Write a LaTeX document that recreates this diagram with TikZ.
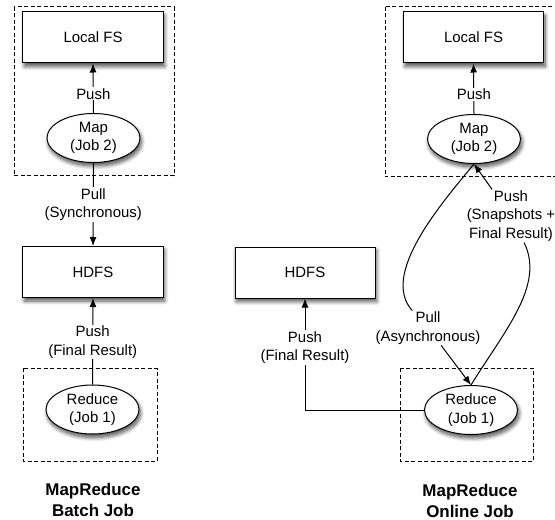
\documentclass[tikz,border=0pt]{standalone}
\usepackage{fontspec}
\setmainfont{Liberation Sans}
\usetikzlibrary{arrows.meta,shapes.geometric,shadows.blur}
\begin{document}
\begin{tikzpicture}[x=1bp,y=-1bp,
  every node/.style={font=\fontsize{15}{18.5}\selectfont, align=center},
  softshadow/.style={blur shadow={shadow xshift=1.5bp, shadow yshift=-3.5bp, shadow blur radius=4bp, shadow blur steps=8, shadow opacity=70}},
  store/.style={draw, line width=1bp, fill=white, minimum width=140bp, minimum height=51bp, inner sep=0pt, softshadow},
  job/.style={ellipse, draw, line width=1bp, fill=white, minimum width=93bp, minimum height=49bp, inner sep=0pt, softshadow},
  group/.style={draw, line width=1bp, dash pattern=on 4bp off 2.5bp},
  arr/.style={line width=1bp, -{Latex[length=9bp,width=7bp]}},
  conn/.style={line width=1bp},
  lbl/.style={fill=white, inner sep=1bp},
  title/.style={font=\fontsize{17}{21}\selectfont\bfseries}]
\useasboundingbox (0,0) rectangle (555,520);

% dashed groupings
\draw[group] (14,7) rectangle (174,176);
\draw[group] (23,368) rectangle (157,461);
\draw[group] (385,7) rectangle (565,177);
\draw[group] (400,368) rectangle (533,461);

% batch job
\node[store] (lfs1) at (93,37.5) {Local FS};
\node[job] (map1) at (93.5,138) {Map\\(Job 2)};
\node[store] (hdfs1) at (93,272) {HDFS};
\node[job] (red1) at (92.5,409.5) {Reduce\\(Job 1)};
\node[title] (t1) at (93,500) {MapReduce\\Batch Job};

\draw[arr] (map1.north) -- (lfs1.south) node[lbl, pos=0.39] {Push};
\draw[arr] (map1.south) -- (hdfs1.north) node[lbl, pos=0.5] {Pull\\(Synchronous)};
\draw[arr] (red1.north) -- (hdfs1.south) node[lbl, pos=0.49] {Push\\(Final Result)};

% online job
\node[store] (lfs2) at (473.5,37.5) {Local FS};
\node[job] (map2) at (474,139) {Map\\(Job 2)};
\node[store] (hdfs2) at (305,272.5) {HDFS};
\node[job] (red2) at (471,410) {Reduce\\(Job 1)};
\node[title] (t2) at (470,501) {MapReduce\\Online Job};

\draw[arr] (map2.north) -- (lfs2.south) node[lbl, pos=0.39] {Push};
\draw[arr] (red2.west) -| (hdfs2.south) node[lbl, pos=0.78] {Push\\(Final Result)};

\node[lbl] (pull2) at (428,328) {Pull\\(Asynchronous)};
\node[lbl] (push2) at (511,216) {Push\\(Snapshots +\\Final Result)};

\draw[conn] (map2.south) .. controls (440,205) and (380,275) .. (pull2);
\draw[arr] (pull2) -- (red2.north);
\draw[conn] (red2.north) .. controls (505,330) and (545,285) .. (push2);
\draw[arr] (push2) -- (map2.south);
\end{tikzpicture}
\end{document}
